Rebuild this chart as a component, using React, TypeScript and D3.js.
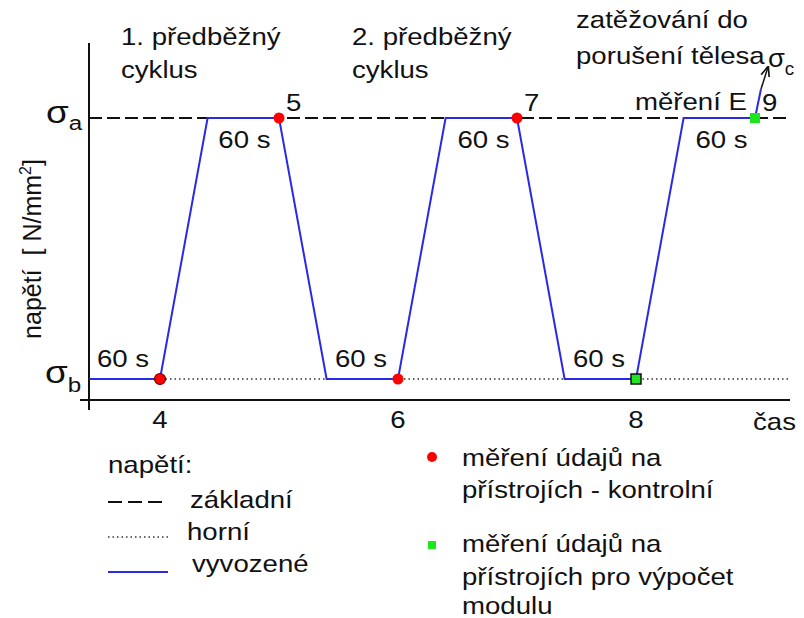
import React from "react";
import * as d3 from "d3";

// time axis (tick labels) and stress levels
const timeTicks = [4, 6, 8];
const sigmaB = 0;
const sigmaA = 1;

// applied load path (vyvozené)
const loadTimes = [3.41, 4, 4.4, 5, 5.4, 6, 6.4, 7, 7.4, 8, 8.4, 9, 9.05];
const loadStress = [0, 0, 1, 1, 0, 0, 1, 1, 0, 0, 1, 1, 1.11];

// measuring points
const redTimes = [4, 5, 6, 7];
const redStress = [0, 1, 0, 1];
const greenTimes = [8, 9];
const greenStress = [0, 1];
const topLabels = ["5", "7", "9"];
const topLabelTimes = [5, 7, 9];

// "60 s" hold labels
const holdTimes = [3.47, 4.49, 5.47, 6.5, 7.47, 8.5];
const holdStress = [0, 1, 0, 1, 0, 1];

const BLUE = "#2a2ae6";
const SX = 1.15;

const x = d3.scaleLinear().domain([4, 8]).range([160, 636]);
const y = d3.scaleLinear().domain([0, 1]).range([379, 118]);

function T({ x, y, size = 24, anchor = "start", children, fill = "#111" }: any) {
  return (
    <text
      transform={`translate(${x},${y}) scale(${SX},1)`}
      fontSize={size}
      textAnchor={anchor}
      fill={fill}
    >
      {children}
    </text>
  );
}

export default function App() {
  const line = d3
    .line<number>()
    .x((t) => x(t))
    .y((_, i) => y(loadStress[i]));

  const x0 = 89;
  const x1 = 790;

  return (
    <svg
      width={804}
      height={618}
      style={{ position: "absolute", left: 0, top: 0, background: "#fff" }}
      fontFamily="'Liberation Sans', Arial, sans-serif"
    >
      <defs>
        <marker id="arr" viewBox="0 0 10 10" refX="9" refY="5" markerWidth="7" markerHeight="7" orient="auto">
          <path d="M0,1 L10,5 L0,9" fill="none" stroke="#111" strokeWidth="1.6" />
        </marker>
      </defs>

      {/* axes */}
      <line x1={x0} x2={x0} y1={43} y2={410} stroke="#111" strokeWidth={2} />
      <line x1={80} x2={790} y1={400} y2={400} stroke="#111" strokeWidth={2} />

      {/* reference stress levels */}
      <line x1={x0} x2={x1} y1={y(sigmaA)} y2={y(sigmaA)} stroke="#111" strokeWidth={1.8} strokeDasharray="13,5" />
      <line x1={x0} x2={x1} y1={y(sigmaB)} y2={y(sigmaB)} stroke="#333" strokeWidth={1.5} strokeDasharray="1.5,3" />

      {/* applied load */}
      <path d={line(loadTimes) || ""} fill="none" stroke={BLUE} strokeWidth={2} />
      <line
        x1={x(loadTimes[loadTimes.length - 1])}
        y1={y(loadStress[loadStress.length - 1])}
        x2={768}
        y2={67}
        stroke="#111"
        strokeWidth={1.5}
        markerEnd="url(#arr)"
      />

      {/* measuring points */}
      {redTimes.map((t, i) => (
        <circle
          key={"r" + i}
          cx={x(t)}
          cy={y(redStress[i])}
          r={5.5}
          fill="#f00"
          stroke={i === 0 ? "#700" : "none"}
          strokeWidth={1.2}
        />
      ))}
      {greenTimes.map((t, i) => (
        <rect
          key={"g" + i}
          x={x(t) - 5}
          y={y(greenStress[i]) - 5}
          width={10}
          height={10}
          fill="#1ee61e"
          stroke={i === 0 ? "#111" : "none"}
          strokeWidth={1.5}
        />
      ))}

      {/* sigma labels */}
      <text transform={`translate(46,${y(sigmaA) + 5}) scale(${SX},1)`} fontSize={32} fill="#111">
        σ<tspan fontSize={21} dy={7}>a</tspan>
      </text>
      <text transform={`translate(45,${y(sigmaB) + 4}) scale(${SX},1)`} fontSize={32} fill="#111">
        σ<tspan fontSize={21} dy={9}>b</tspan>
      </text>

      {/* y axis label */}
      <text transform="translate(41,249) rotate(-90)" fontSize={25} textAnchor="middle" fill="#111">
        {"napětí\u00a0\u00a0[ N/mm"}
        <tspan fontSize={16} dy={-10}>2</tspan>
        <tspan dy={10}>]</tspan>
      </text>

      {/* ticks */}
      {timeTicks.map((t) => (
        <T key={t} x={x(t)} y={428} anchor="middle">
          {t}
        </T>
      ))}
      <T x={753} y={430}>čas</T>

      {/* point numbers */}
      {topLabels.map((s, i) => (
        <T key={s} x={x(topLabelTimes[i]) + 7} y={111}>
          {s}
        </T>
      ))}

      {/* hold labels */}
      {holdTimes.map((t, i) => (
        <T key={i} x={x(t)} y={holdStress[i] === 1 ? 148 : 367}>
          60 s
        </T>
      ))}

      {/* annotations */}
      <T x={121} y={45}>1. předběžný</T>
      <T x={121} y={78}>cyklus</T>
      <T x={352} y={45}>2. předběžný</T>
      <T x={352} y={78}>cyklus</T>
      <T x={576} y={28}>zatěžování do</T>
      <T x={576} y={64}>porušení tělesa</T>
      <text transform={`translate(768,67) scale(1.05,1)`} fontSize={26} fill="#111">
        σ<tspan fontSize={18} dy={8}>c</tspan>
      </text>
      <T x={635} y={110}>měření E</T>

      {/* legend: stress */}
      <T x={108} y={473}>napětí:</T>
      <line x1={108} x2={168} y1={502} y2={502} stroke="#111" strokeWidth={1.8} strokeDasharray="14,6" />
      <T x={190} y={508}>základní</T>
      <line x1={108} x2={170} y1={537} y2={537} stroke="#333" strokeWidth={1.5} strokeDasharray="1.5,3" />
      <T x={187} y={540}>horní</T>
      <line x1={108} x2={168} y1={572} y2={572} stroke={BLUE} strokeWidth={2} />
      <T x={192} y={572}>vyvozené</T>

      {/* legend: points */}
      <circle cx={432} cy={457} r={5} fill="#f00" />
      <T x={462} y={466}>měření údajů na</T>
      <T x={462} y={498}>přístrojích - kontrolní</T>
      <rect x={428} y={541} width={8} height={8} fill="#1ee61e" />
      <T x={462} y={552}>měření údajů na</T>
      <T x={462} y={585}>přístrojích pro výpočet</T>
      <T x={462} y={614}>modulu</T>
    </svg>
  );
}
